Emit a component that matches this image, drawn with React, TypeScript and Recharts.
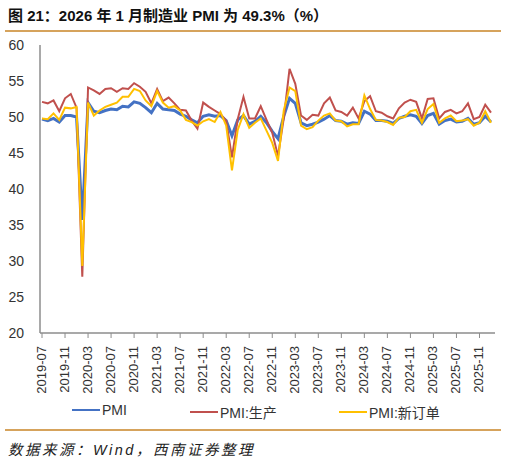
import React from "react";
import { LineChart, Line, XAxis, YAxis } from "recharts";

// Monthly manufacturing PMI and sub-indices, 2019-07 .. 2026-01
const months: string[] = [
  "2019-07", "2019-08", "2019-09", "2019-10", "2019-11", "2019-12",
  "2020-01", "2020-02", "2020-03", "2020-04", "2020-05", "2020-06",
  "2020-07", "2020-08", "2020-09", "2020-10", "2020-11", "2020-12",
  "2021-01", "2021-02", "2021-03", "2021-04", "2021-05", "2021-06",
  "2021-07", "2021-08", "2021-09", "2021-10", "2021-11", "2021-12",
  "2022-01", "2022-02", "2022-03", "2022-04", "2022-05", "2022-06",
  "2022-07", "2022-08", "2022-09", "2022-10", "2022-11", "2022-12",
  "2023-01", "2023-02", "2023-03", "2023-04", "2023-05", "2023-06",
  "2023-07", "2023-08", "2023-09", "2023-10", "2023-11", "2023-12",
  "2024-01", "2024-02", "2024-03", "2024-04", "2024-05", "2024-06",
  "2024-07", "2024-08", "2024-09", "2024-10", "2024-11", "2024-12",
  "2025-01", "2025-02", "2025-03", "2025-04", "2025-05", "2025-06",
  "2025-07", "2025-08", "2025-09", "2025-10", "2025-11", "2025-12",
  "2026-01",
];

const pmi: number[] = [
  49.7, 49.5, 49.8, 49.3, 50.2, 50.2,
  50.0, 35.7, 52.0, 50.8, 50.6, 50.9, 51.1, 51.0, 51.5, 51.4, 52.1, 51.9,
  51.3, 50.6, 51.9, 51.1, 51.0, 50.9, 50.4, 50.1, 49.6, 49.2, 50.1, 50.3,
  50.1, 50.2, 49.5, 47.4, 49.6, 50.2, 49.0, 49.4, 50.1, 49.2, 48.0, 47.0,
  50.1, 52.6, 51.9, 49.2, 48.8, 49.0, 49.3, 49.7, 50.2, 49.5, 49.4, 49.0,
  49.2, 49.1, 50.8, 50.4, 49.5, 49.5, 49.4, 49.1, 49.8, 50.1, 50.3, 50.1,
  49.1, 50.2, 50.5, 49.0, 49.5, 49.7, 49.3, 49.4, 49.8, 49.0, 49.2, 50.1,
  49.3,
];

const production: number[] = [
  52.1, 51.9, 52.3, 50.8, 52.6, 53.2,
  51.3, 27.8, 54.1, 53.7, 53.2, 53.9, 54.0, 53.5, 54.0, 53.9, 54.7, 54.2,
  53.5, 51.9, 53.9, 52.2, 52.7, 51.9, 51.0, 50.9, 49.5, 48.4, 52.0, 51.4,
  50.9, 50.4, 49.5, 44.4, 49.7, 52.8, 49.8, 49.8, 51.5, 49.6, 47.8, 44.6,
  49.8, 56.7, 54.6, 50.2, 49.6, 50.3, 50.2, 51.9, 52.7, 50.9, 50.7, 50.2,
  51.3, 49.8, 52.2, 52.9, 50.8, 50.6, 50.1, 49.8, 51.2, 52.0, 52.4, 52.1,
  49.8, 52.5, 52.6, 49.8, 50.7, 51.0, 50.5, 50.8, 51.9, 49.7, 50.0, 51.7,
  50.6,
];

const newOrders: number[] = [
  49.8, 49.7, 50.5, 49.6, 51.3, 51.2,
  51.4, 29.3, 52.0, 50.2, 50.9, 51.4, 51.7, 52.0, 52.8, 52.8, 53.9, 53.6,
  52.3, 51.5, 53.6, 52.0, 51.3, 51.5, 50.9, 49.6, 49.3, 48.8, 49.4, 49.7,
  49.3, 50.7, 48.8, 42.6, 48.2, 50.4, 48.5, 49.2, 49.8, 48.1, 46.4, 43.9,
  50.9, 54.1, 53.6, 48.8, 48.3, 48.6, 49.5, 50.2, 50.5, 49.5, 49.4, 48.7,
  49.0, 49.0, 53.0, 51.1, 49.6, 49.5, 49.3, 48.9, 49.9, 50.0, 50.8, 51.0,
  49.2, 51.1, 51.8, 49.2, 49.8, 50.2, 49.4, 49.5, 49.7, 48.8, 49.2, 50.8,
  49.2,
];

const yTicks: number[] = [20, 25, 30, 35, 40, 45, 50, 55, 60];

const seriesInfo = [
  { key: "pmi", name: "PMI", color: "#4472C4", width: 3 },
  { key: "production", name: "PMI:生产", color: "#C0504D", width: 2 },
  { key: "newOrders", name: "PMI:新订单", color: "#FFC000", width: 2 },
];

const data = months.map((m, i) => ({
  month: m,
  pmi: pmi[i],
  production: production[i],
  newOrders: newOrders[i],
}));

const FONT = '"Liberation Sans", "Noto Sans CJK SC", Arial, sans-serif';
const AXIS_COLOR = "#8c8c8c";
const RULE_COLOR = "#D6A35C";

const MonthTick = (props: any) => {
  const { x, y, payload } = props;
  return (
    <g transform={`translate(${x + 4},${y + 6})`}>
      <text
        transform="rotate(-90)"
        textAnchor="end"
        x={0}
        y={0}
        fontSize={13}
        fontFamily={FONT}
        fill="#333"
      >
        {payload.value}
      </text>
    </g>
  );
};

export default function App() {
  return (
    <div
      style={{
        position: "absolute",
        left: 0,
        top: 0,
        width: 507,
        height: 461,
        background: "#fff",
        fontFamily: FONT,
      }}
    >
      <div
        style={{
          position: "absolute",
          left: 8,
          top: 4,
          fontSize: 15,
          fontWeight: "bold",
          color: "#111",
          whiteSpace: "nowrap",
        }}
      >
        图 21：2026 年 1 月制造业 PMI 为 49.3%（%）
      </div>
      <div
        style={{
          position: "absolute",
          left: 5,
          top: 30,
          width: 496,
          height: 2,
          background: RULE_COLOR,
        }}
      />

      <div style={{ position: "absolute", left: 0, top: 0 }}>
        <LineChart
          width={507}
          height={461}
          data={data}
          margin={{ top: 45, right: 12, bottom: 68, left: 0 }}
        >
          <XAxis
            dataKey="month"
            interval={3}
            height={60}
            padding={{ left: 2, right: 4 }}
            tick={<MonthTick />}
            tickLine={{ stroke: AXIS_COLOR }}
            axisLine={{ stroke: AXIS_COLOR, strokeWidth: 1.5 }}
            tickSize={5}
          />
          <YAxis
            domain={[20, 60]}
            ticks={yTicks}
            width={40}
            interval={0}
            tick={{ fontSize: 14, fill: "#333", fontFamily: FONT }}
            tickLine={false}
            axisLine={{ stroke: AXIS_COLOR, strokeWidth: 1.5 }}
            tickMargin={10}
          />
          {seriesInfo.map((s) => (
            <Line
              key={s.key}
              type="linear"
              dataKey={s.key}
              name={s.name}
              stroke={s.color}
              strokeWidth={s.width}
              dot={false}
              activeDot={false}
              isAnimationActive={false}
            />
          ))}
        </LineChart>
      </div>

      {/* legend */}
      {seriesInfo.map((s, i) => {
        const lefts = [72, 190, 339];
        return (
          <div
            key={s.key}
            style={{
              position: "absolute",
              left: lefts[i],
              top: 402,
              display: "flex",
              alignItems: "center",
              whiteSpace: "nowrap",
            }}
          >
            <span
              style={{
                display: "inline-block",
                width: 28,
                height: 2.5,
                background: s.color,
                marginRight: 2,
              }}
            />
            <span style={{ fontSize: 14, color: "#333" }}>{s.name}</span>
          </div>
        );
      })}

      <div
        style={{
          position: "absolute",
          left: 5,
          top: 429,
          width: 496,
          height: 2,
          background: RULE_COLOR,
        }}
      />
      <div
        style={{
          position: "absolute",
          left: 8,
          top: 438,
          fontSize: 14.5,
          fontStyle: "italic",
          letterSpacing: 2.5,
          color: "#222",
          whiteSpace: "nowrap",
        }}
      >
        数据来源：Wind，西南证券整理
      </div>
    </div>
  );
}
